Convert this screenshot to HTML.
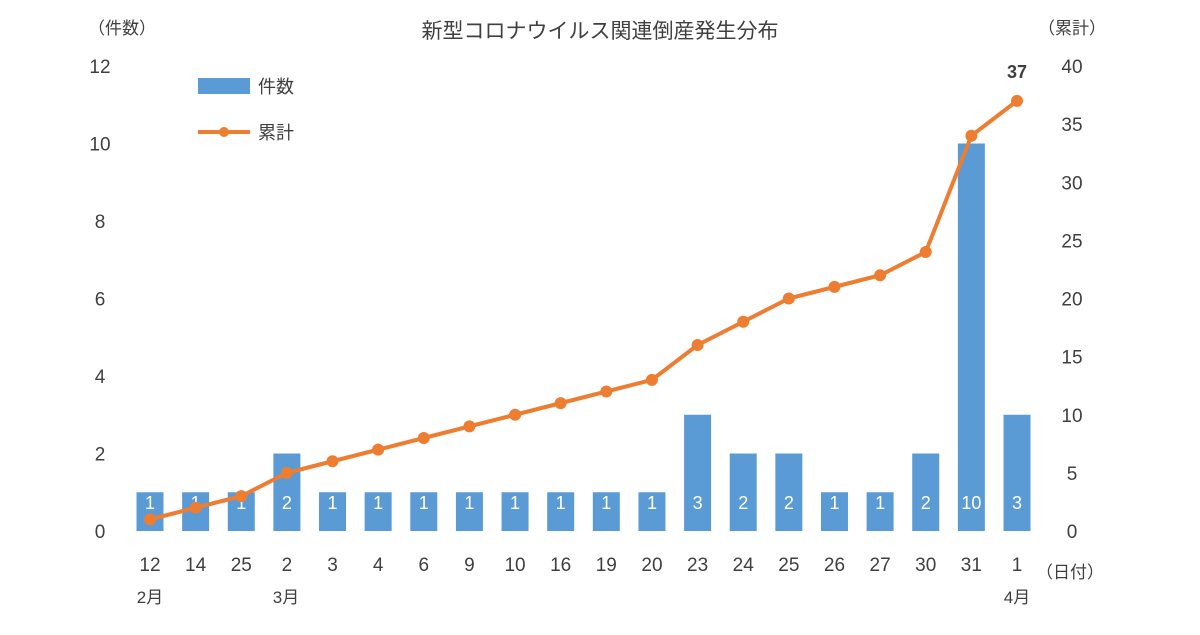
<!DOCTYPE html>
<html><head><meta charset="utf-8"><style>
body{margin:0;background:#fff;}
svg text{font-family:"Liberation Sans","Noto Sans CJK JP",sans-serif;fill:#404040;}
</style></head><body>
<svg id="c" width="1200" height="630">
<text x="600" y="38" font-size="21" text-anchor="middle">新型コロナウイルス関連倒産発生分布</text>
<text x="122" y="34" font-size="17" text-anchor="middle">（件数）</text>
<text x="1072" y="34" font-size="17" text-anchor="middle">（累計）</text>
<text x="1070" y="578" font-size="17" text-anchor="middle">（日付）</text>
<text x="150" y="603" font-size="17" text-anchor="middle">2月</text>
<text x="286" y="603" font-size="17" text-anchor="middle">3月</text>
<text x="1017" y="603" font-size="17" text-anchor="middle">4月</text>
<rect x="198" y="78" width="52" height="16" fill="#5b9bd5"/>
<text x="258" y="93" font-size="18">件数</text>
<line x1="198" y1="132" x2="250" y2="132" stroke="#ed7d31" stroke-width="4"/>
<circle cx="224" cy="132" r="5" fill="#ed7d31"/>
<text x="258" y="139" font-size="18">累計</text>
<g id="g"></g>
</svg>
<script>
const categories=["12","14","25","2","3","4","6","9","10","16","19","20","23","24","25","26","27","30","31","1"];
const counts=[1,1,1,2,1,1,1,1,1,1,1,1,3,2,2,1,1,2,10,3];
const cumulative=[1,2,3,5,6,7,8,9,10,11,12,13,16,18,20,21,22,24,34,37];
const leftTicks=[0,2,4,6,8,10,12];
const rightTicks=[0,5,10,15,20,25,30,35,40];
const NS="http://www.w3.org/2000/svg";
const g=document.getElementById('g');
const y0=531,y1=66;
const yL=v=>y0-(v/12)*(y0-y1);
const yR=v=>y0-(v/40)*(y0-y1);
const x=i=>150+i*(1017-150)/(categories.length-1);
function mk(t,a){const e=document.createElementNS(NS,t);for(const k in a)e.setAttribute(k,a[k]);g.appendChild(e);return e;}
leftTicks.forEach(v=>{const t=mk('text',{x:100,y:yL(v)+7,'font-size':19,'text-anchor':'middle'});t.textContent=v;

});
rightTicks.forEach(v=>{const t=mk('text',{x:1072,y:yR(v)+7,'font-size':19,'text-anchor':'middle'});t.textContent=v;

});
categories.forEach((c,i)=>{const t=mk('text',{x:x(i),y:571,'font-size':19,'text-anchor':'middle'});t.textContent=c;

});
counts.forEach((v,i)=>{const r=mk('rect',{x:x(i)-13.5,y:yL(v),width:27,height:y0-yL(v),fill:'#5b9bd5'});


const t=mk('text',{x:x(i),y:y0-22,'font-size':18,'text-anchor':'middle',style:'fill:#fff'});t.textContent=v;

});
const p=mk('polyline',{points:cumulative.map((v,i)=>x(i)+','+yR(v)).join(' '),fill:'none',stroke:'#ed7d31','stroke-width':4,'stroke-linejoin':'round'});


cumulative.forEach((v,i)=>{const c=mk('circle',{cx:x(i),cy:yR(v),r:6,fill:'#ed7d31'});

});
const n=cumulative.length-1;
const lt=mk('text',{x:x(n),y:yR(cumulative[n])-23,'font-size':18,'font-weight':'bold','text-anchor':'middle'});lt.textContent=cumulative[n];


</script>
</body></html>
